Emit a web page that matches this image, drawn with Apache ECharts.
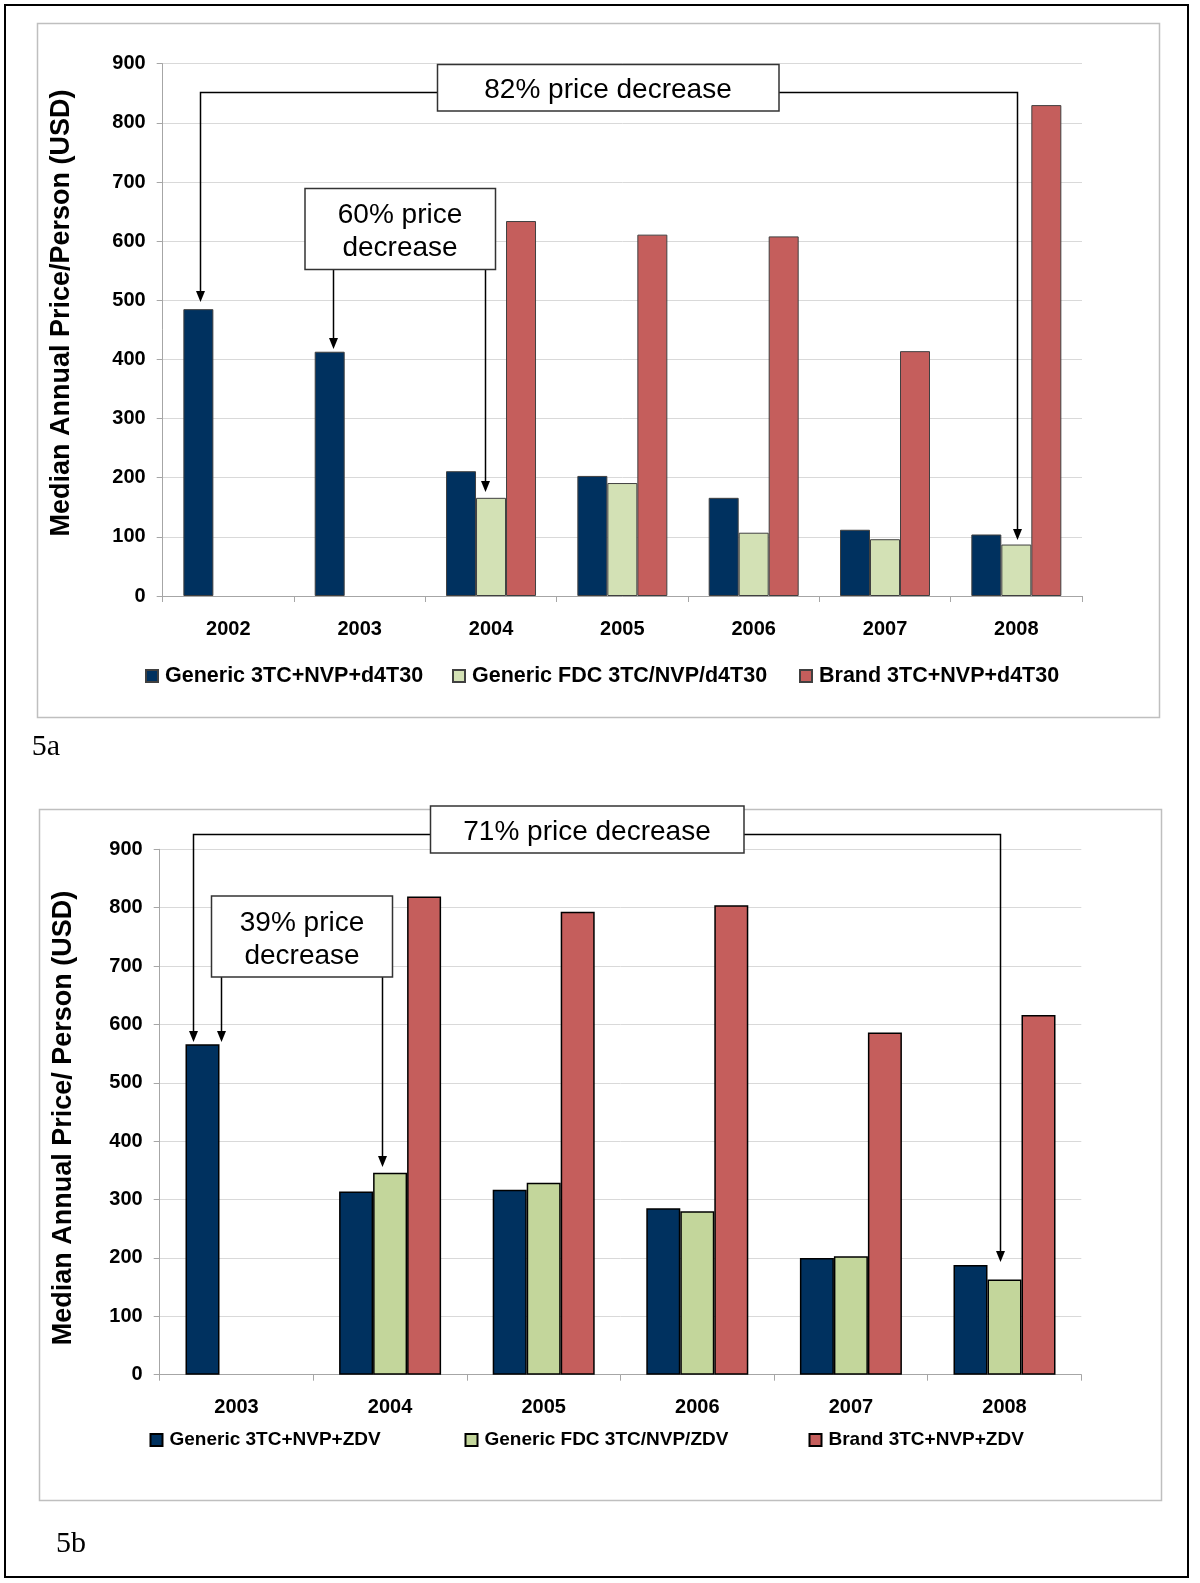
<!DOCTYPE html>
<html><head><meta charset="utf-8">
<script src="https://cdn.jsdelivr.net/npm/echarts@6/dist/echarts.min.js"></script>
<style>html,body{margin:0;padding:0;background:#fff}#c{width:1200px;height:1583px}</style>
</head><body><div id="c"></div>
<script>
// ---------- data ----------
const yearsA = ['2002','2003','2004','2005','2006','2007','2008'];
const namesA = ['Generic 3TC+NVP+d4T30','Generic FDC 3TC/NVP/d4T30','Brand 3TC+NVP+d4T30'];
const genericA = [485, 413, 211, 203, 166, 112, 104];
const fdcA     = [null, null, 166, 191, 107, 96, 87];
const brandA   = [null, null, 634, 611, 608, 414, 830];

const yearsB = ['2003','2004','2005','2006','2007','2008'];
const namesB = ['Generic 3TC+NVP+ZDV','Generic FDC 3TC/NVP/ZDV','Brand 3TC+NVP+ZDV'];
const genericB = [566, 314, 317, 285, 200, 188];
const fdcB     = [null, 346, 329, 280, 203, 163];
const brandB   = [null, 819, 793, 804, 586, 616];

const yTicks = [0,100,200,300,400,500,600,700,800,900];

// ---------- styles ----------
const FONT = "'Liberation Sans', Arial, sans-serif";
const NAVY = '#00315f', GREEN_A = '#d3e1b5', GREEN_B = '#c3d69b', RED = '#c55e5c';

function yAxis(gi){
  return {type:'value', gridIndex:gi, min:yTicks[0], max:yTicks[yTicks.length-1], interval:100,
    axisLine:{show:true, lineStyle:{color:'#a6a6a6', width:1}},
    axisTick:{show:true, length:6, lineStyle:{color:'#a6a6a6'}},
    splitLine:{lineStyle:{color:'#d9d9d9', width:1}},
    axisLabel:{margin:17, color:'#000', fontFamily:FONT, fontWeight:'bold', fontSize:20}};
}
function xAxis(gi, data){
  return {type:'category', gridIndex:gi, data:data,
    axisLine:{lineStyle:{color:'#a6a6a6', width:1}},
    axisTick:{show:true, length:6, lineStyle:{color:'#a6a6a6'}},
    axisLabel:{margin:23, color:'#000', fontFamily:FONT, fontWeight:'bold', fontSize:20}};
}
function bar(name, gi, data, color, bw, border, bwid){
  return {type:'bar', name:name, xAxisIndex:gi, yAxisIndex:gi, data:data, barWidth:bw, barGap:'0%',
    itemStyle:{color:color, borderColor:border, borderWidth:bwid}, emphasis:{disabled:true}, animation:false};
}
function legend(name, left, top, fs){
  return {data:[name], left:left, top:top, padding:0, itemWidth:12, itemHeight:12, itemGap:0,
    icon:'rect', selectedMode:false,
    textStyle:{color:'#000', fontFamily:FONT, fontWeight:'bold', fontSize:fs, lineHeight:24, padding:[0,0,0,2]}};
}

// ---------- annotation helpers ----------
const LINE = {stroke:'#000', lineWidth:1.5, fill:null};
function pl(points){ return {type:'polyline', z:100, shape:{points:points}, style:LINE}; }
function head(x, y){ return {type:'polygon', z:101, shape:{points:[[x-4.5,y-11],[x+4.5,y-11],[x,y]]}, style:{fill:'#000'}}; }
function box(x1,y1,x2,y2){ return {type:'rect', z:100, shape:{x:x1,y:y1,width:x2-x1,height:y2-y1}, style:{fill:'#fff', stroke:'#333', lineWidth:1.5}}; }
function txt(x,y,t,opt){ return Object.assign({type:'text', z:102, x:x, y:y, style:{text:t, fill:'#000', font:"28px "+FONT, textAlign:'center', textVerticalAlign:'middle', lineHeight:33}}, opt||{}); }

const graphics = [
  // outer frame
  {type:'rect', z:0, shape:{x:5,y:5,width:1183,height:1572}, style:{fill:null, stroke:'#000', lineWidth:2}},
  // chart boxes
  {type:'rect', z:0, shape:{x:37.5,y:23.5,width:1122,height:694}, style:{fill:null, stroke:'#bfbfbf', lineWidth:1.5}},
  {type:'rect', z:0, shape:{x:39.5,y:809.5,width:1122,height:691}, style:{fill:null, stroke:'#bfbfbf', lineWidth:1.5}},
  // y axis names
  {type:'text', z:50, x:62, y:313, rotation:Math.PI/2, style:{text:'Median Annual Price/Person (USD)', fill:'#000', font:"bold 27px "+FONT, textAlign:'center', textVerticalAlign:'middle'}},
  {type:'text', z:50, x:64, y:1118, rotation:Math.PI/2, style:{text:'Median Annual Price/ Person (USD)', fill:'#000', font:"bold 27px "+FONT, textAlign:'center', textVerticalAlign:'middle'}},
  // panel labels
  {type:'text', z:50, x:46, y:747, style:{text:'5a', fill:'#000', font:"30px 'Liberation Serif', 'Times New Roman', serif", textAlign:'center', textVerticalAlign:'middle'}},
  {type:'text', z:50, x:71, y:1544, style:{text:'5b', fill:'#000', font:"30px 'Liberation Serif', 'Times New Roman', serif", textAlign:'center', textVerticalAlign:'middle'}},

  // ---- 5a annotations ----
  pl([[437.5,92.5],[200.5,92.5],[200.5,291]]), head(200.5,302),
  pl([[779,92.5],[1017.5,92.5],[1017.5,529]]), head(1017.5,540),
  box(437.5,64.5,779,111),
  txt(608,90,'82% price decrease'),
  pl([[333.5,269],[333.5,338]]), head(333.5,349),
  pl([[485.5,269],[485.5,481]]), head(485.5,492),
  box(305,188.5,495.5,269.5),
  txt(400,232,'60% price\ndecrease'),

  // ---- 5b annotations ----
  pl([[430.5,834.5],[193.5,834.5],[193.5,1031]]), head(193.5,1042),
  pl([[744,834.5],[1000.5,834.5],[1000.5,1251]]), head(1000.5,1262),
  box(430.5,806,744,853),
  txt(587,832.5,'71% price decrease'),
  pl([[221.5,977],[221.5,1031]]), head(221.5,1042),
  pl([[382.5,977],[382.5,1156]]), head(382.5,1167),
  box(211.5,896,392.5,977),
  txt(302,940,'39% price\ndecrease')
];

const option = {
  backgroundColor:'#fff',
  animation:false,
  textStyle:{fontFamily:FONT},
  grid:[
    {left:162.7, top:63.7, width:919.3, height:532.3, containLabel:false},
    {left:159.7, top:849.3, width:921.6, height:525.4, containLabel:false}
  ],
  xAxis:[xAxis(0, yearsA), xAxis(1, yearsB)],
  yAxis:[yAxis(0), yAxis(1)],
  legend:[
    legend(namesA[0], 145, 664, 21.5),
    legend(namesA[1], 452, 664, 21.5),
    legend(namesA[2], 799, 664, 21.5),
    legend(namesB[0], 149.5, 1428, 19),
    legend(namesB[1], 464.5, 1428, 19),
    legend(namesB[2], 808.5, 1428, 19)
  ],
  series:[
    bar(namesA[0], 0, genericA, NAVY, 30, '#404040', 1),
    bar(namesA[1], 0, fdcA, GREEN_A, 30, '#404040', 1),
    bar(namesA[2], 0, brandA, RED, 30, '#404040', 1),
    bar(namesB[0], 1, genericB, NAVY, 34, '#000', 1.5),
    bar(namesB[1], 1, fdcB, GREEN_B, 34, '#000', 1.5),
    bar(namesB[2], 1, brandB, RED, 34, '#000', 1.5)
  ],
  graphic:graphics
};
const chart = echarts.init(document.getElementById('c'), null, {renderer:'canvas'});
chart.setOption(option);
</script>
</body></html>
